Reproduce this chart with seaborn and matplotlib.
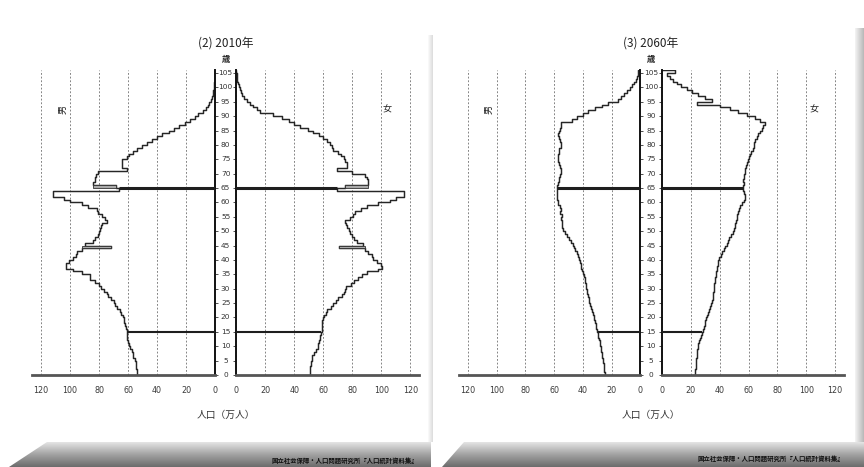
import numpy as np
import pandas as pd
import matplotlib
matplotlib.use("Agg")
import matplotlib.pyplot as plt
import matplotlib.transforms as mtransforms
from matplotlib.patches import Polygon
from matplotlib.colors import LinearSegmentedColormap
import seaborn as sns

# --- data (万人, single year of age 0..105) ---
ages = list(range(0, 106))

male_2010 = [
    53.6, 54.0, 54.3, 54.5, 54.8, 55.5, 56.3, 56.6, 57.5, 58.5,
    59.2, 60.0, 60.8, 61.0, 61.0, 61.0, 61.2, 62.0, 62.5, 63.0,
    63.2, 64.5, 65.5, 67.5, 69.0, 70.0, 71.5, 73.6, 74.7, 76.5,
    78.5, 80.0, 82.8, 86.0, 86.0, 92.0, 98.0, 103.0, 103.0, 100.5,
    98.0, 96.0, 95.0, 92.0, 72.0, 90.0, 84.0, 82.5, 81.0, 80.0,
    79.0, 78.6, 78.0, 74.7, 76.0, 78.0, 80.5, 81.6, 87.5, 92.0,
    100.0, 104.0, 112.0, 112.0, 66.0, 68.0, 84.0, 83.0, 82.8, 82.0,
    81.0, 61.0, 64.4, 64.4, 64.0, 60.6, 59.0, 56.5, 53.5, 50.5,
    47.0, 43.5, 40.0, 36.5, 32.0, 28.5, 25.0, 21.0, 17.5, 14.0,
    11.5, 8.5, 6.5, 5.0, 3.8, 2.8, 2.0, 1.5, 1.1, 0.8,
    0.5, 0.35, 0.2, 0.12, 0.06, 0.03,
]
female_2010 = [
    50.5, 50.8, 51.0, 51.2, 51.5, 52.0, 52.2, 53.5, 55.0, 56.0,
    56.5, 57.0, 57.8, 58.0, 58.5, 59.0, 59.0, 59.0, 59.3, 59.7,
    60.5, 62.0, 62.5, 65.0, 67.0, 68.5, 70.0, 72.8, 74.0, 75.0,
    75.5, 79.0, 81.0, 84.0, 87.0, 90.0, 98.0, 100.4, 99.5, 97.0,
    94.5, 93.5, 91.0, 89.0, 70.5, 87.3, 83.0, 81.0, 80.0, 78.5,
    77.5, 76.3, 75.5, 75.0, 78.5, 80.6, 82.0, 86.0, 90.0, 98.0,
    106.0, 110.0, 115.4, 115.4, 69.4, 75.0, 91.0, 90.5, 90.0, 89.0,
    79.7, 69.4, 76.3, 76.3, 75.1, 74.0, 72.0, 70.0, 67.0, 66.0,
    64.5, 62.5, 60.0, 57.0, 53.0, 49.5, 44.0, 40.0, 36.0, 31.5,
    25.5, 16.0, 14.0, 11.5, 9.5, 7.5, 5.5, 4.2, 3.2, 2.3,
    1.6, 1.1, 0.7, 0.4, 0.2, 0.1,
]
male_2060 = [
    24.8, 25.0, 25.3, 25.6, 25.9, 26.2, 26.5, 26.9, 27.3, 27.7,
    28.0, 28.4, 28.8, 29.3, 29.8, 30.2, 30.7, 31.2, 31.7, 32.1,
    32.5, 33.1, 33.8, 34.5, 35.2, 35.7, 36.0, 36.5, 37.0, 37.4,
    37.8, 38.1, 38.4, 38.8, 39.2, 39.7, 40.3, 41.0, 41.6, 42.2,
    42.9, 43.6, 44.3, 45.2, 46.0, 46.8, 48.0, 49.5, 51.0, 52.4,
    53.5, 54.3, 54.5, 54.2, 55.0, 54.6, 55.8, 55.5, 56.0, 57.0,
    57.5, 58.0, 58.2, 58.0, 58.3, 58.0, 57.0, 56.5, 56.8, 55.8,
    55.0, 55.4, 55.7, 56.5, 57.0, 57.3, 57.0, 56.5, 56.4, 55.5,
    55.0, 55.6, 56.5, 57.0, 56.8, 56.0, 55.5, 55.0, 47.8, 44.3,
    39.7, 36.2, 31.6, 26.9, 22.3, 15.3, 13.7, 11.2, 9.1, 7.2,
    5.6, 4.4, 3.2, 2.5, 1.8, 1.4,
]
female_2060 = [
    23.1, 23.2, 23.3, 23.4, 23.6, 23.8, 24.0, 24.3, 24.6, 24.9,
    25.2, 25.6, 26.1, 26.7, 27.4, 28.2, 28.9, 29.5, 30.1, 30.7,
    31.2, 31.8, 32.5, 33.3, 34.2, 34.8, 35.1, 35.4, 35.6, 35.8,
    36.0, 36.2, 36.5, 36.8, 37.1, 37.5, 38.0, 38.4, 38.7, 39.0,
    39.8, 40.6, 41.8, 43.0, 44.0, 45.0, 45.8, 46.8, 48.0, 49.0,
    49.7, 50.3, 50.8, 51.5, 52.0, 52.0, 52.8, 53.4, 54.3, 55.5,
    56.8, 57.5, 57.8, 57.2, 56.4, 56.0, 56.6, 56.4, 56.8, 57.0,
    57.4, 57.8, 58.4, 59.0, 59.6, 60.2, 61.0, 62.0, 63.3, 63.6,
    64.0, 64.5, 66.0, 66.8, 68.0, 69.0, 70.2, 71.4, 68.0, 64.5,
    58.7, 52.9, 47.2, 40.2, 24.0, 34.4, 29.8, 25.2, 20.6, 17.1,
    13.2, 10.2, 7.9, 5.5, 3.2, 9.0,
]

# grey highlighted cohorts in 2010 (age, inner value, outer value)
hl_ages_2010 = [44, 65]
hl_male_inner = [72.0, 68.0]
hl_male_outer = [92.0, 84.0]
hl_female_inner = [70.5, 75.0]
hl_female_outer = [89.0, 91.0]

x_ticks = [0, 20, 40, 60, 80, 100, 120]
age_ticks = list(range(0, 106, 5))
titles = ["(2) 2010年", "(3) 2060年"]
xlabel = "人口（万人）"
source = "国立社会保障・人口問題研究所『人口統計資料集』"

W, H = 864, 467
sns.set_theme(style="white")
plt.rcParams["font.family"] = ["Noto Sans CJK JP", "DejaVu Sans"]

fig = plt.figure(figsize=(W / 100, H / 100), dpi=100)

# --- background card decoration ---
bg = fig.add_axes([0, 0, 1, 1], zorder=-10)
bg.axis("off")
band_cmap = LinearSegmentedColormap.from_list("band", ["#e4e4e4", "#a2a2a2", "#6c6c6c"])
grad = np.linspace(0, 1, 64).reshape(-1, 1)
for poly_pts in ([(47, 442), (431, 442), (431, 467), (9, 467)],
                 [(464, 442), (852, 442), (864, 430), (864, 467), (442, 467)]):
    poly = Polygon(poly_pts, closed=True, facecolor="none", edgecolor="none")
    bg.add_patch(poly)
    im = bg.imshow(grad, extent=(0, W, 467, 442), cmap=band_cmap, aspect="auto")
    im.set_clip_path(poly)
side_grad = np.linspace(0, 1, 32).reshape(1, -1)
right_cmap = LinearSegmentedColormap.from_list("side", ["#f4f4f4", "#b8b8b8"])
mid_cmap = LinearSegmentedColormap.from_list("mid", ["#fbfbfb", "#dcdcdc"])
bg.imshow(side_grad, extent=(855, 864, 442, 28), cmap=right_cmap, aspect="auto")
bg.imshow(side_grad, extent=(428, 433, 442, 35), cmap=mid_cmap, aspect="auto")
bg.set_xlim(0, W)
bg.set_ylim(H, 0)

panels = [
    dict(m=(32.3, 215.0), f=(236.3, 419.0), cx=225.6, male=male_2010, female=female_2010,
         boy=63, girl=387, src=345, src_y=460),
    dict(m=(459.4, 640.3), f=(662.0, 843.7), cx=651.0, male=male_2060, female=female_2060,
         boy=489, girl=814, src=771, src_y=458),
]
y_top, y_bot = 70.1, 375.0
XMAX = 126


def fx(px):
    return px / W


def fy(py):
    return 1 - py / H


def draw_side(ax, vals, is_male):
    df = pd.DataFrame({"age": ages + [106], "pop": vals + [0.0]})
    sns.lineplot(data=df, x="pop", y="age", orient="y", sort=False, estimator=None,
                 drawstyle="steps-pre", color="#262626", lw=1.05, ax=ax)
    ax.set_ylim(0, 106)
    if is_male:
        ax.set_xlim(XMAX, 0)
    else:
        ax.set_xlim(0, XMAX)
    ax.set_xlabel("")
    ax.set_ylabel("")
    ax.set_xticks(x_ticks)
    ax.set_xticklabels([str(t) for t in x_ticks], fontsize=5.8, color="#3a3a3a",
                       family=["Liberation Sans Narrow", "DejaVu Sans"])
    ax.tick_params(axis="x", length=0, pad=8)
    ax.xaxis.grid(True, linestyle=(0, (2.2, 2.2)), color="#707070", lw=0.6)
    ax.yaxis.grid(False)
    ax.set_yticks(age_ticks)
    for s in ["top", "left", "right"]:
        ax.spines[s].set_visible(False)
    ax.spines["bottom"].set_color("#555555")
    ax.spines["bottom"].set_linewidth(2.0)
    inner = "right" if is_male else "left"
    ax.spines[inner].set_visible(True)
    ax.spines[inner].set_color("#111111")
    ax.spines[inner].set_linewidth(1.4)
    if is_male:
        ax.yaxis.tick_right()
    else:
        ax.yaxis.tick_left()
    ax.tick_params(axis="y", direction="out", length=2.5, width=0.6, color="#333333",
                   labelleft=False, labelright=False)
    # 15 and 65 boundary lines
    ax.hlines(65, 0, vals[64], colors="#1e1e1e", lw=2.2, zorder=3)
    ax.hlines(15, 0, vals[14], colors="#1e1e1e", lw=1.5, zorder=3)
    ax.set_facecolor("none")


for i, p in enumerate(panels):
    bottom = fy(y_bot)
    height = (y_bot - y_top) / H
    ax_m = fig.add_axes([fx(p["m"][0]), bottom, (p["m"][1] - p["m"][0]) / W, height])
    ax_f = fig.add_axes([fx(p["f"][0]), bottom, (p["f"][1] - p["f"][0]) / W, height])
    draw_side(ax_m, p["male"], True)
    draw_side(ax_f, p["female"], False)

    if i == 0:
        for a, lo, hi in zip(hl_ages_2010, hl_male_inner, hl_male_outer):
            ax_m.barh(a, hi - lo, left=lo, height=1, align="edge", color="#a9a9a9",
                      edgecolor="#333333", lw=0.6, zorder=2)
        for a, lo, hi in zip(hl_ages_2010, hl_female_inner, hl_female_outer):
            ax_f.barh(a, hi - lo, left=lo, height=1, align="edge", color="#a9a9a9",
                      edgecolor="#333333", lw=0.6, zorder=2)

    blend = mtransforms.blended_transform_factory(fig.transFigure, ax_m.transData)
    for a in age_ticks:
        ax_m.text(fx(p["cx"]), a, str(a), transform=blend, ha="center", va="center",
                  fontsize=5.3, color="#333333", clip_on=False,
                  family=["Liberation Sans Narrow", "DejaVu Sans"])

    fig.text(fx(p["cx"]), fy(43), titles[i], ha="center", va="center", fontsize=8.5,
             color="#222222")
    fig.text(fx(p["cx"]), fy(59), "歳", ha="center", va="center", fontsize=6,
             color="#222222", fontweight="bold")
    fig.text(fx(p["boy"]), fy(110), "男", ha="center", va="center", fontsize=6.5,
             color="#222222", rotation=90)
    fig.text(fx(p["girl"]), fy(110), "女", ha="center", va="center", fontsize=6.5,
             color="#222222")
    fig.text(fx(p["cx"]), fy(415), xlabel, ha="center", va="center", fontsize=7,
             color="#333333")
    fig.text(fx(p["src"]), fy(p["src_y"]), source, ha="center", va="center",
             fontsize=4.6, color="#111111", fontweight="bold")

fig.savefig("out.png", dpi=100)
